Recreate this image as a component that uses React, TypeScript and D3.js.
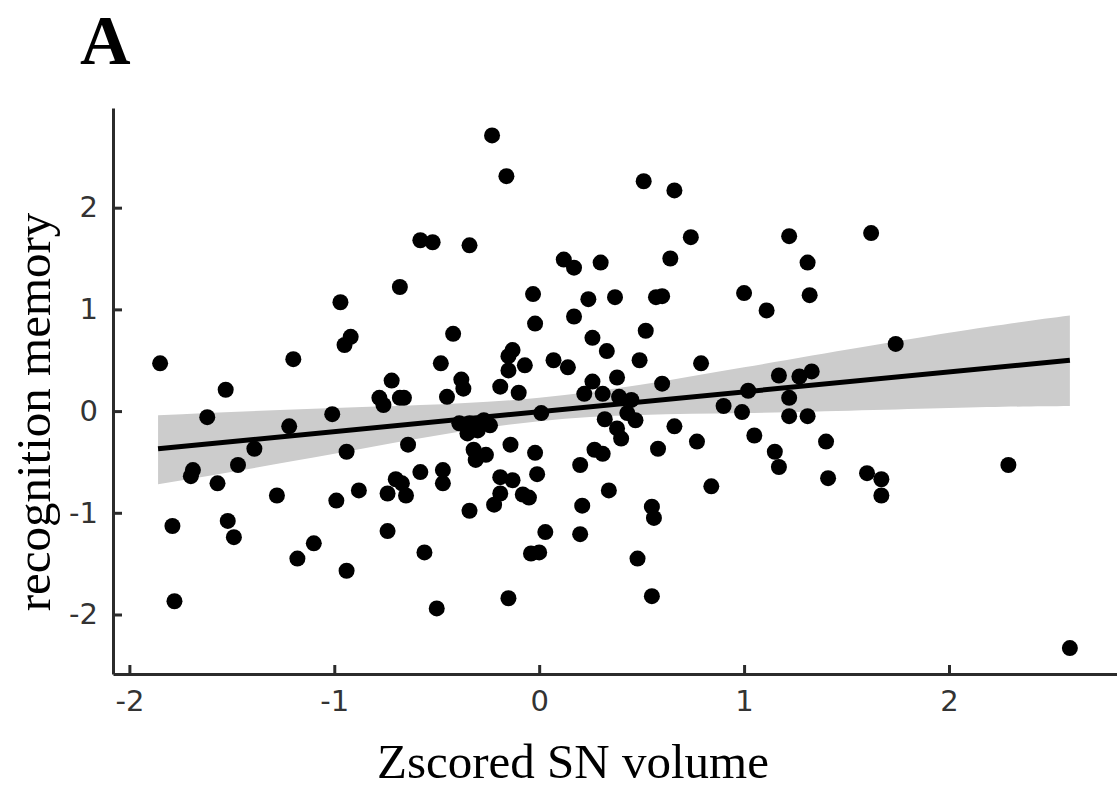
import React from 'react';
import * as d3 from 'd3';

// zscored SN volume (x) for each subject
const snVolume = [
  -1.85, -1.53, -1.2, -0.97, -0.95, -0.92, -0.23, -0.16, -0.58, -0.52,
  -0.34, -0.68, 0.12, 0.17, 0.3, -0.03, 0.24, -0.02, 0.17, 0.26,
  -0.42, -0.48, -0.13, -0.15, -0.15, -0.07, 0.07, 0.14, 0.26, 0.22,
  -0.72, -0.78, -0.76, -0.68, -0.66, -0.45, -0.38, -0.37, -0.19, -0.1,
  0.01, -0.39, -0.34, -0.27, -0.24, -0.35, -0.3, -0.94, -0.64, -0.32,
  -0.26, -0.31, -0.14, -0.02, 0.27, 0.31, 0.2, -0.99, -0.88, -0.74,
  -0.7, -0.67, -0.65, -0.58, -0.47, -0.47, -0.19, -0.13, -0.19, -0.22,
  -0.08, -0.05, -0.01, -0.34, 0.21, -0.74, -0.56, 0.03, 0.2, -0.04,
  0.0, -0.94, -0.5, -0.15, -1.62, -1.22, -1.01, -1.39, -1.69, -1.7,
  -1.47, -1.57, -1.28, -1.79, -1.52, -1.49, -1.1, -1.18, -1.78, 0.6,
  0.31, 0.39, 0.45, 0.43, 0.47, 0.32, 0.38, 0.4, 0.66, 0.9,
  1.02, 0.99, 1.22, 1.22, 1.31, 1.05, 0.77, 0.58, 1.15, 1.17,
  1.4, 1.41, 0.34, 0.84, 0.55, 0.56, 0.48, 0.55, 1.6, 1.67,
  1.67, 2.29, 2.59, 1.62, 1.74, 0.51, 0.66, 0.74, 1.22, 1.31,
  1.32, 1.0, 1.11, 0.64, 0.37, 0.57, 0.6, 0.33, 0.52, 0.49,
  0.79, 0.38, 1.17, 1.27, 1.33,
];

// recognition memory (y) for each subject
const memory = [
  0.47, 0.21, 0.51, 1.07, 0.65, 0.73, 2.71, 2.31, 1.68, 1.66,
  1.63, 1.22, 1.49, 1.41, 1.46, 1.15, 1.1, 0.86, 0.93, 0.72,
  0.76, 0.47, 0.6, 0.54, 0.4, 0.45, 0.5, 0.43, 0.29, 0.17,
  0.3, 0.13, 0.06, 0.13, 0.13, 0.14, 0.31, 0.22, 0.24, 0.18,
  -0.02, -0.12, -0.12, -0.09, -0.14, -0.22, -0.19, -0.4, -0.33, -0.38,
  -0.43, -0.48, -0.33, -0.41, -0.38, -0.42, -0.53, -0.88, -0.78, -0.81,
  -0.67, -0.71, -0.83, -0.6, -0.58, -0.71, -0.65, -0.68, -0.81, -0.92,
  -0.82, -0.85, -0.62, -0.98, -0.93, -1.18, -1.39, -1.19, -1.21, -1.4,
  -1.39, -1.57, -1.94, -1.84, -0.06, -0.15, -0.03, -0.37, -0.58, -0.64,
  -0.53, -0.71, -0.83, -1.13, -1.08, -1.24, -1.3, -1.45, -1.87, 0.27,
  0.17, 0.14, 0.11, -0.02, -0.09, -0.08, -0.17, -0.27, -0.15, 0.05,
  0.2, -0.01, 0.13, -0.05, -0.05, -0.24, -0.3, -0.37, -0.4, -0.55,
  -0.3, -0.66, -0.78, -0.74, -0.94, -1.05, -1.45, -1.82, -0.61, -0.67,
  -0.83, -0.53, -2.33, 1.75, 0.66, 2.26, 2.17, 1.71, 1.72, 1.46,
  1.14, 1.16, 0.99, 1.5, 1.12, 1.12, 1.13, 0.59, 0.79, 0.5,
  0.47, 0.33, 0.35, 0.34, 0.39,
];

// linear fit and its confidence band
const fitX = [-1.86, 2.59];
const fitY = [-0.37, 0.5];
const bandX = [-1.86, -1, 0, 1, 2, 2.59];
const bandLow = [-0.72, -0.42, -0.1, -0.02, 0.03, 0.05];
const bandHigh = [-0.04, 0.03, 0.13, 0.43, 0.77, 0.94];

const ticks = [-2, -1, 0, 1, 2];

const W = 1117;
const H = 791;

export default function App() {
  const ref = React.useRef<SVGSVGElement>(null);

  React.useEffect(() => {
    const svg = d3.select(ref.current);
    svg.selectAll('*').remove();

    const x = d3.scaleLinear().domain([-2.08, 2.82]).range([113, 1117]);
    const y = d3.scaleLinear().domain([-2.585, 2.98]).range([674, 108]);

    // confidence band
    const band = bandX.map((v, i) => ({ x: v, lo: bandLow[i], hi: bandHigh[i] }));
    svg
      .append('path')
      .datum(band)
      .attr('fill', '#cccccc')
      .attr(
        'd',
        d3
          .area<any>()
          .x((d) => x(d.x))
          .y0((d) => y(d.lo))
          .y1((d) => y(d.hi))
          .curve(d3.curveNatural)
      );

    // points
    svg
      .append('g')
      .selectAll('circle')
      .data(snVolume.map((v, i) => [v, memory[i]]))
      .join('circle')
      .attr('cx', (d) => x(d[0]))
      .attr('cy', (d) => y(d[1]))
      .attr('r', 8)
      .attr('fill', '#000');

    // fit line
    svg
      .append('path')
      .datum(fitX.map((v, i) => [v, fitY[i]]))
      .attr('fill', 'none')
      .attr('stroke', '#000')
      .attr('stroke-width', 5)
      .attr(
        'd',
        d3
          .line<any>()
          .x((d) => x(d[0]))
          .y((d) => y(d[1]))
      );

    const styleAxis = (g) => {
      g.select('.domain').attr('stroke', '#2b2b2b').attr('stroke-width', 3);
      g.selectAll('.tick line').attr('stroke', '#2b2b2b').attr('stroke-width', 3);
      g.selectAll('.tick text')
        .attr('fill', '#333')
        .style('font-family', '"DejaVu Sans", sans-serif')
        .style('font-size', '29px');
    };

    const fmt = (d) => String(d);

    svg
      .append('g')
      .attr('transform', `translate(0,${y.range()[0]})`)
      .call(
        d3.axisBottom(x).tickValues(ticks).tickFormat(fmt)
          .tickSizeInner(-9).tickSizeOuter(0).tickPadding(16)
      )
      .call(styleAxis);

    svg
      .append('g')
      .attr('transform', `translate(${x.range()[0]},0)`)
      .call(
        d3.axisLeft(y).tickValues(ticks).tickFormat(fmt)
          .tickSizeInner(-9).tickSizeOuter(0).tickPadding(15)
      )
      .call(styleAxis);

    const serif = '"Liberation Serif", "Times New Roman", serif';

    svg
      .append('text')
      .attr('x', 573)
      .attr('y', 778)
      .attr('text-anchor', 'middle')
      .style('font-family', serif)
      .style('font-size', '49px')
      .text('Zscored SN volume');

    svg
      .append('text')
      .attr('transform', 'translate(50,412) rotate(-90)')
      .attr('text-anchor', 'middle')
      .style('font-family', serif)
      .style('font-size', '49px')
      .text('recognition memory');

    svg
      .append('text')
      .attr('x', 80)
      .attr('y', 64)
      .style('font-family', serif)
      .style('font-weight', 'bold')
      .style('font-size', '70px')
      .text('A');
  }, []);

  return (
    <svg
      ref={ref}
      width={W}
      height={H}
      style={{ position: 'absolute', left: 0, top: 0, background: '#fff' }}
    />
  );
}
